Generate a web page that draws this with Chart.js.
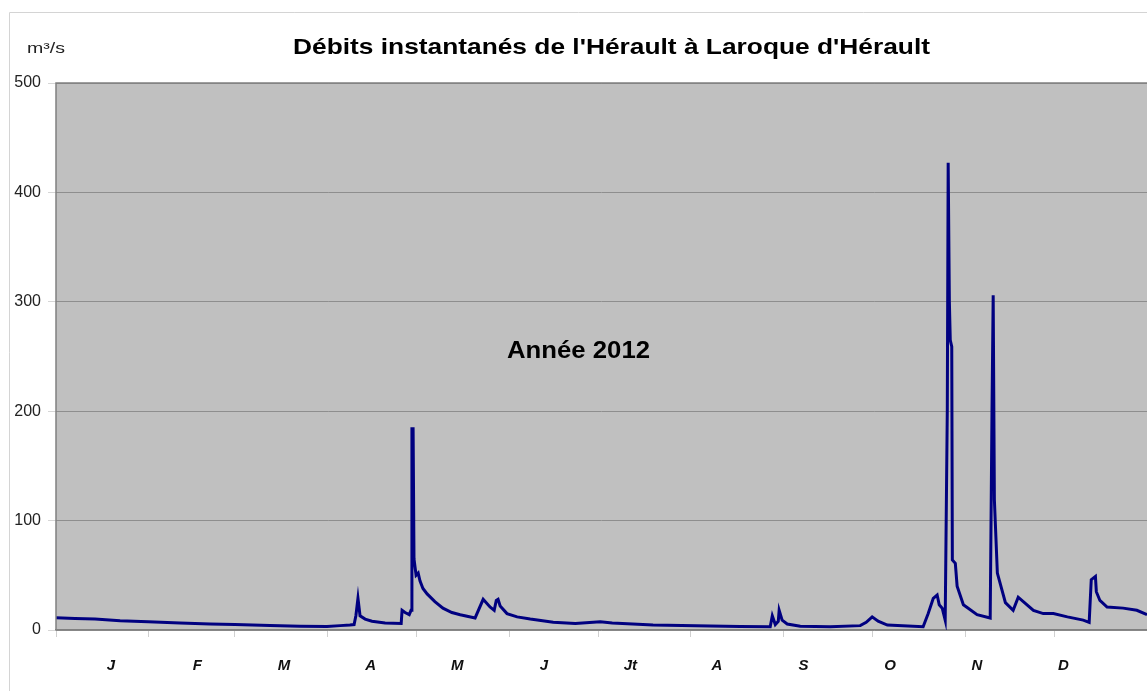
<!DOCTYPE html>
<html>
<head>
<meta charset="utf-8">
<script src="https://cdn.jsdelivr.net/npm/chart.js@4/dist/chart.umd.min.js"></script>
<style>
  html, body { margin: 0; padding: 0; background: #ffffff; overflow: hidden; }
  canvas { display: block; }
</style>
</head>
<body>
<canvas id="c" width="1147" height="691"></canvas>
<script>
// ---- DATA ----
const titleText = "Débits instantanés de l'Hérault à Laroque d'Hérault";
const unitText = "m³/s";
const yearText = "Année 2012";
const monthLabels = ["J", "F", "M", "A", "M", "J", "Jt", "A", "S", "O", "N", "D"];
const monthDays = [31, 29, 31, 30, 31, 30, 31, 31, 30, 31, 30, 31];
const yTicks = [0, 100, 200, 300, 400, 500];

// day of year (fractional) and discharge in m3/s
const days = [
  0, 6.4, 13.1, 21.5, 30.9, 41.6, 51.7, 60, 71.8, 81.9, 90.9, 95.3, 98.6, 100,
  100.6, 101.3, 102, 103.7, 106, 110.4, 115.8, 116.1, 117.1, 118.5, 119.1, 119.4,
  119.8, 120.1, 120.8, 121.5, 122.1, 123.1, 124.5, 127.1, 129.8, 132.8, 135.6,
  140.6, 143.3, 145.6, 147, 147.7, 148.3, 149, 151.3, 154.7, 159.1, 166.8, 174.2,
  182.6, 186.6, 200.3, 219.5, 229.5, 239.6, 240.3, 241.3, 242.3, 242.6, 243.6,
  245.3, 249.7, 259.7, 269.8, 271.8, 273.8, 275.8, 278.9, 290.9, 292.6, 294.3,
  295.6, 296.3, 297.3, 298.3, 299, 299.3, 299.7, 300, 300.5, 300.7, 301.7, 302.3,
  304.4, 309, 313.4, 314, 314.4, 314.8, 315.8, 318.5, 321.1, 322.8, 324.5, 327.9,
  331.2, 334.6, 339.3, 344.6, 346.6, 347.3, 348.7, 349, 350.2, 352.6, 358, 362.6, 366
];
const flows = [
  11.3, 10.5, 10, 8.5, 7.5, 6.5, 5.5, 5, 4.2, 3.5, 3.2, 4, 4.5, 5,
  13, 29, 13, 10, 8, 6.5, 6, 18, 16, 14, 18, 184,
  184, 65, 50, 52, 45, 38, 33, 26, 20, 16, 14,
  11, 28, 21, 18, 27, 28, 22, 15, 12, 10, 7, 6,
  7.5, 6.5, 4.6, 3.7, 3.2, 3, 13, 5, 8, 18, 9,
  5.5, 3.5, 3, 4, 7, 12, 8, 4.5, 3, 15, 29,
  32, 23, 20, 9, 200, 427, 300, 265, 259, 64, 61, 40,
  23, 14, 11, 200, 306, 119, 52, 25, 18, 30, 26, 18,
  15, 15, 12, 9, 7, 46, 49, 35, 27, 21, 20, 18, 14
];

// ---- derived ----
const boundaries = [0];
monthDays.forEach(d => boundaries.push(boundaries[boundaries.length - 1] + d));
const totalDays = boundaries[boundaries.length - 1];
const points = days.map((d, i) => ({ x: d, y: flows[i] }));
// month labels are laid out evenly (as in the original chart), not exactly at month centres
const LABEL_FIRST = 18.4, LABEL_STEP = 29.05;
const labelPos = monthLabels.map((_, i) => +(LABEL_FIRST + i * LABEL_STEP).toFixed(3));
const tickValues = boundaries.concat(labelPos).sort((a, b) => a - b);

function stretchedText(ctx, text, cx, baseline, targetWidth) {
  const w = ctx.measureText(text).width;
  const s = targetWidth / w;
  ctx.save();
  ctx.translate(cx, baseline);
  ctx.scale(s, 1);
  ctx.textAlign = 'center';
  ctx.fillText(text, 0, 0);
  ctx.restore();
}

const decor = {
  id: 'decor',
  beforeDraw(chart) {
    const ctx = chart.ctx;
    const a = chart.chartArea;
    ctx.save();
    ctx.strokeStyle = '#d4d4d4';
    ctx.lineWidth = 1;
    ctx.beginPath();
    ctx.moveTo(9.5, 700);
    ctx.lineTo(9.5, 12.5);
    ctx.lineTo(1200, 12.5);
    ctx.stroke();
    ctx.fillStyle = '#c0c0c0';
    ctx.fillRect(a.left, a.top, a.right - a.left, a.bottom - a.top);
    ctx.restore();
  },
  afterDraw(chart) {
    const ctx = chart.ctx;
    const a = chart.chartArea;
    ctx.save();
    ctx.strokeStyle = '#808080';
    ctx.lineWidth = 1.5;
    ctx.beginPath();
    ctx.moveTo(a.left, a.bottom);
    ctx.lineTo(a.left, a.top);
    ctx.lineTo(a.right + 2, a.top);
    ctx.stroke();
    ctx.fillStyle = '#000000';
    ctx.textBaseline = 'alphabetic';
    ctx.font = 'bold 22px "Liberation Sans", Arial, sans-serif';
    stretchedText(ctx, titleText, 611.5, 54, 637);
    ctx.font = 'bold 23px "Liberation Sans", Arial, sans-serif';
    stretchedText(ctx, yearText, 578.5, 358, 143);
    ctx.fillStyle = '#222222';
    ctx.font = '15px "Liberation Sans", Arial, sans-serif';
    stretchedText(ctx, unitText, 46, 53, 38);
    ctx.restore();
  }
};

new Chart(document.getElementById('c'), {
  type: 'line',
  data: {
    datasets: [{
      data: points,
      borderColor: '#000080',
      borderWidth: 3,
      pointRadius: 0,
      tension: 0,
      fill: false
    }]
  },
  options: {
    responsive: false,
    animation: false,
    devicePixelRatio: 1,
    layout: { padding: { top: 83, left: 0, right: 0, bottom: 0 } },
    plugins: { legend: { display: false }, tooltip: { enabled: false }, title: { display: false } },
    scales: {
      x: {
        type: 'linear',
        min: 0,
        max: totalDays,
        afterBuildTicks(scale) { scale.ticks = tickValues.map(v => ({ value: v })); },
        afterFit(scale) { scale.height = 61; scale.paddingLeft = 0; scale.paddingRight = 0; },
        grid: {
          drawOnChartArea: false,
          drawTicks: true,
          tickLength: 7,
          tickColor: ctx => (ctx.tick && boundaries.includes(ctx.tick.value)) ? '#d0d0d0' : 'rgba(0,0,0,0)'
        },
        border: { display: true, color: '#808080', width: 1.5 },
        ticks: {
          autoSkip: false,
          maxRotation: 0,
          padding: 20,
          color: '#111111',
          font: { family: '"Liberation Sans", Arial, sans-serif', size: 15, weight: 'bold', style: 'italic' },
          callback(v) {
            const i = labelPos.indexOf(+(+v).toFixed(3));
            return i >= 0 ? monthLabels[i] : '';
          }
        }
      },
      y: {
        min: 0,
        max: 500,
        afterBuildTicks(scale) { scale.ticks = yTicks.map(v => ({ value: v })); },
        afterFit(scale) { scale.width = 56; scale.paddingTop = 0; scale.paddingBottom = 0; },
        grid: {
          color: '#8e8e8e',
          lineWidth: 1,
          drawTicks: true,
          tickLength: 8,
          tickColor: '#d6d6d6'
        },
        border: { display: false },
        ticks: {
          padding: 7,
          color: '#222222',
          font: { family: '"Liberation Sans", Arial, sans-serif', size: 16 }
        }
      }
    }
  },
  plugins: [decor]
});
</script>
</body>
</html>
